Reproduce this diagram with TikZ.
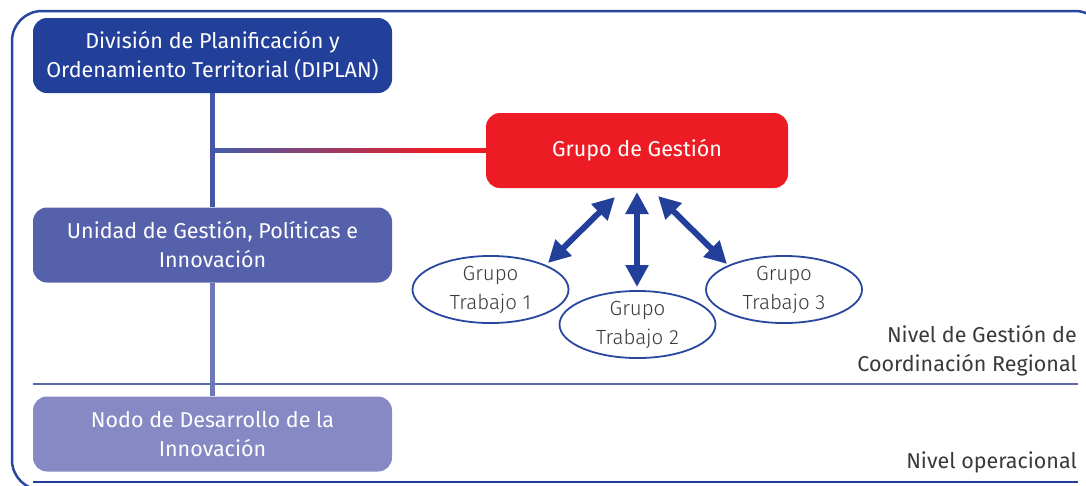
\documentclass[tikz,border=0pt]{standalone}
\usepackage{fontspec}
\setmainfont{Fira Sans}
\newfontfamily\lightfont{Fira Sans Light}
\usetikzlibrary{shapes.geometric,arrows.meta,calc}
\definecolor{dblue}{HTML}{22409A}
\definecolor{ublue}{HTML}{5561AB}
\definecolor{nblue}{HTML}{8689C3}
\definecolor{gred}{HTML}{ED1C24}
\definecolor{lineblue}{HTML}{5A68B0}
\definecolor{frameblue}{HTML}{2A47A0}
\definecolor{txtgray}{HTML}{3A3A3A}
\tikzset{
  orgbox/.style={rounded corners=14pt, minimum width=359pt, minimum height=75pt, text=white, align=center, font=\fontsize{21.5}{29}\selectfont, inner sep=0pt},
  grp/.style={ellipse, draw=frameblue, line width=1.8pt, fill=white, minimum width=156pt, minimum height=65pt, inner sep=0pt, align=center, text=txtgray, font=\lightfont\fontsize{20.5}{29}\selectfont},
  dbl/.style={line width=6pt, draw=dblue, {Triangle[length=22pt,width=22pt]}-{Triangle[length=22pt,width=22pt]}},
  lvl/.style={align=right, text=txtgray, anchor=south east, inner sep=0pt, font=\fontsize{21.5}{29}\selectfont},
}
\begin{document}
\begin{tikzpicture}[x=1pt,y=-1pt]
\useasboundingbox (0,0) rectangle (1086,485);
\clip (0,0) rectangle (1086,485);
\fill[white] (0,0) rectangle (1086,485);
% outer frame
\draw[frameblue, line width=2.5pt, rounded corners=30pt] (12,11) rectangle (1105,490);
% level lines
\draw[lineblue, line width=1.6pt] (33,384) -- (1078,384);
\draw[dblue, line width=2pt] (33,482) -- (1078,482);
% boxes
\node[orgbox, fill=dblue] (dip) at (212.5,55.5) {División de Planificación y\\Ordenamiento Territorial (DIPLAN)};
\node[orgbox, fill=ublue] (uni) at (212.5,245) {Unidad de Gestión, Políticas e\\Innovación};
\node[orgbox, fill=nblue] (nod) at (212.5,434) {Nodo de Desarrollo de la\\Innovación};
\node[rounded corners=14pt, fill=gred, minimum width=302pt, minimum height=75pt, text=white, font=\fontsize{21.5}{29}\selectfont, inner sep=0pt] (gg) at (637,150.5) {Grupo de Gestión};
% vertical connectors
\draw[color={rgb,255:red,70;green,85;blue,165}, line width=5pt] (dip.south) -- (uni.north);
\draw[color={rgb,255:red,110;green,120;blue,185}, line width=5pt] (uni.south) -- (nod.north);
% horizontal gradient connector
\coordinate (j) at (dip.south |- gg.west);
\coordinate (m) at (440,150.5);
\shade[left color=dblue!85!white, right color=gred] ($(j)+(2.5,-2)$) rectangle ($(m)+(0.5,2)$);
\fill[gred] ($(m)+(0,-2.4)$) rectangle ($(gg.west)+(1,2.4)$);
% working groups
\node[grp] (g1) at (490.5,289.5) {Grupo\\Trabajo 1};
\node[grp] (g2) at (637.5,324.5) {Grupo\\Trabajo 2};
\node[grp] (g3) at (784,289.5) {Grupo\\Trabajo 3};
% arrows
\coordinate (a1s) at (615,197);
\coordinate (a1e) at (548,263);
\coordinate (a2s) at (637,192);
\coordinate (a2e) at (637,287);
\coordinate (a3s) at (658,196);
\coordinate (a3e) at (727,264);
\draw[dbl] (a1s) -- (a1e);
\draw[dbl] (a2s) -- (a2e);
\draw[dbl] (a3s) -- (a3e);
% level labels
\node[lvl] (l1) at (1077,376) {Nivel de Gestión de\\Coordinación Regional};
\node[lvl] (l2) at (1077,473) {Nivel operacional};
\end{tikzpicture}
\end{document}
